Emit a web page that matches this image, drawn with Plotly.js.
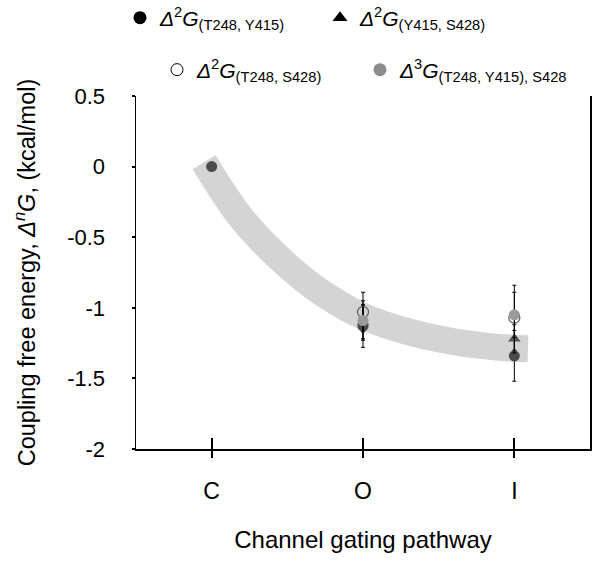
<!DOCTYPE html>
<html>
<head>
<meta charset="utf-8">
<script src="https://cdn.plot.ly/plotly-3.0.1.min.js"></script>
<style>html,body{margin:0;padding:0;background:#fff;}#chart{width:598px;height:561px;}</style>
</head>
<body>
<div id="chart"></div>
<script>
// Categories (channel gating pathway)
const categories = ['C', 'O', 'I'];
const catPos = [0, 1, 2];

// Series names and values (kcal/mol) with errors
const names = [
  '<i>Δ</i><sup>2</sup><i>G</i><sub>(T248, Y415)</sub>',
  '<i>Δ</i><sup>2</sup><i>G</i><sub>(Y415, S428)</sub>',
  '<i>Δ</i><sup>2</sup><i>G</i><sub>(T248, S428)</sub>',
  '<i>Δ</i><sup>3</sup><i>G</i><sub>(T248, Y415), S428</sub>'
];
const g2_T248_Y415 = [0, -1.13, -1.34];
const g2_T248_Y415_err = [0, 0.15, 0.18];
const g2_Y415_S428 = [null, -1.10, -1.22];
const g2_Y415_S428_err = [0, 0.12, 0.10];
const g2_T248_S428 = [null, -1.03, -1.07];
const g2_T248_S428_err = [0, 0.14, 0.23];
const g3 = [null, -1.09, -1.05];
const g3_err = [0, 0.14, 0.16];

// Trend band
const bandX = [-0.05, 0.2, 0.5, 0.75, 1.0, 1.3, 1.6, 1.9, 2.09];
const bandY = [0.03, -0.37, -0.70, -0.91, -1.06, -1.17, -1.24, -1.28, -1.29];

const FONT = 'Liberation Sans, Arial, sans-serif';

function errY(arr){ return {type:'data', array:arr, visible:true, color:'#000', thickness:1, width:2}; }

const traces = [
  {x: bandX, y: bandY, mode:'lines', line:{color:'#d4d4d4', width:27, shape:'spline', smoothing:1}, showlegend:false, hoverinfo:'skip'},
  {x: catPos, y: g2_T248_Y415, error_y: errY(g2_T248_Y415_err), mode:'markers', marker:{symbol:'circle', size:11, color:'#4a4a4a'}, showlegend:false},
  {x: catPos, y: g2_Y415_S428, error_y: errY(g2_Y415_S428_err), mode:'markers', marker:{symbol:'triangle-up', size:11, color:'#555555'}, showlegend:false},
  {x: catPos, y: g2_T248_S428, error_y: errY(g2_T248_S428_err), mode:'markers', marker:{symbol:'circle', size:11, color:'rgba(255,255,255,0)', line:{color:'#555', width:1.2}}, showlegend:false},
  {x: catPos, y: g3, error_y: errY(g3_err), mode:'markers', marker:{symbol:'circle', size:11, color:'#9a9a9a'}, showlegend:false},
  // helper for outside tick marks on overlay axis
  {x:[null], y:[null], xaxis:'x2', mode:'markers', showlegend:false, hoverinfo:'skip'},
  // legend entries
  {x:[null], y:[null], mode:'markers', name:names[0], marker:{symbol:'circle', size:13, color:'#000'}, legend:'legend'},
  {x:[null], y:[null], mode:'markers', name:names[1], marker:{symbol:'triangle-up', size:13, color:'#000'}, legend:'legend2'},
  {x:[null], y:[null], mode:'markers', name:names[2], marker:{symbol:'circle', size:12, color:'#fff', line:{color:'#000', width:1}}, legend:'legend3'},
  {x:[null], y:[null], mode:'markers', name:names[3], marker:{symbol:'circle', size:13, color:'#8c8c8c'}, legend:'legend4'}
];

function leg(px, py){
  return {
    orientation:'h', xref:'container', yref:'container', xanchor:'left', yanchor:'middle',
    x:px/598, y:1-py/561,
    font:{family:FONT, size:21, color:'#000'}, bgcolor:'rgba(0,0,0,0)', itemclick:false
  };
}

const layout = {
  width:598, height:561,
  margin:{l:136, r:8, t:96, b:112},
  paper_bgcolor:'#fff', plot_bgcolor:'#fff',
  font:{family:FONT, color:'#000'},
  xaxis:{
    range:[-0.5, 2.5], tickvals:catPos, ticktext:categories,
    showgrid:false, zeroline:false, showline:true, linecolor:'#000', linewidth:1.5,
    ticks:'inside', ticklen:11, tickwidth:2, tickcolor:'#000',
    tickfont:{family:FONT, size:23, color:'#000'}, ticklabelstandoff:21,
    title:{text:'Channel gating pathway', font:{family:FONT, size:24, color:'#000'}, standoff:28}
  },
  xaxis2:{
    range:[-0.5, 2.5], overlaying:'x', anchor:'y', side:'bottom',
    tickvals:catPos, showticklabels:false, showgrid:false, zeroline:false, showline:false,
    ticks:'outside', ticklen:8, tickwidth:2, tickcolor:'#000'
  },
  yaxis:{
    range:[-2, 0.5], tickvals:[0.5, 0, -0.5, -1, -1.5, -2], ticktext:['0.5','0','-0.5','-1','-1.5','-2'],
    showgrid:false, zeroline:false, showline:true, mirror:true, linecolor:'#000', linewidth:1.5,
    ticks:'outside', ticklen:3, tickwidth:2, tickcolor:'#000',
    tickfont:{family:FONT, size:22, color:'#000'}, ticklabelstandoff:22,
    title:{text:'Coupling free energy, <i>Δ<sup>n</sup>G</i>, (kcal/mol)', font:{family:FONT, size:23.5, color:'#000'}, standoff:25}
  },
  legend: leg(120, 18),
  legend2: leg(320, 18),
  legend3: leg(157, 70),
  legend4: leg(360, 70)
};

Plotly.newPlot('chart', traces, layout, {displayModeBar:false, staticPlot:true});
</script>
</body>
</html>
